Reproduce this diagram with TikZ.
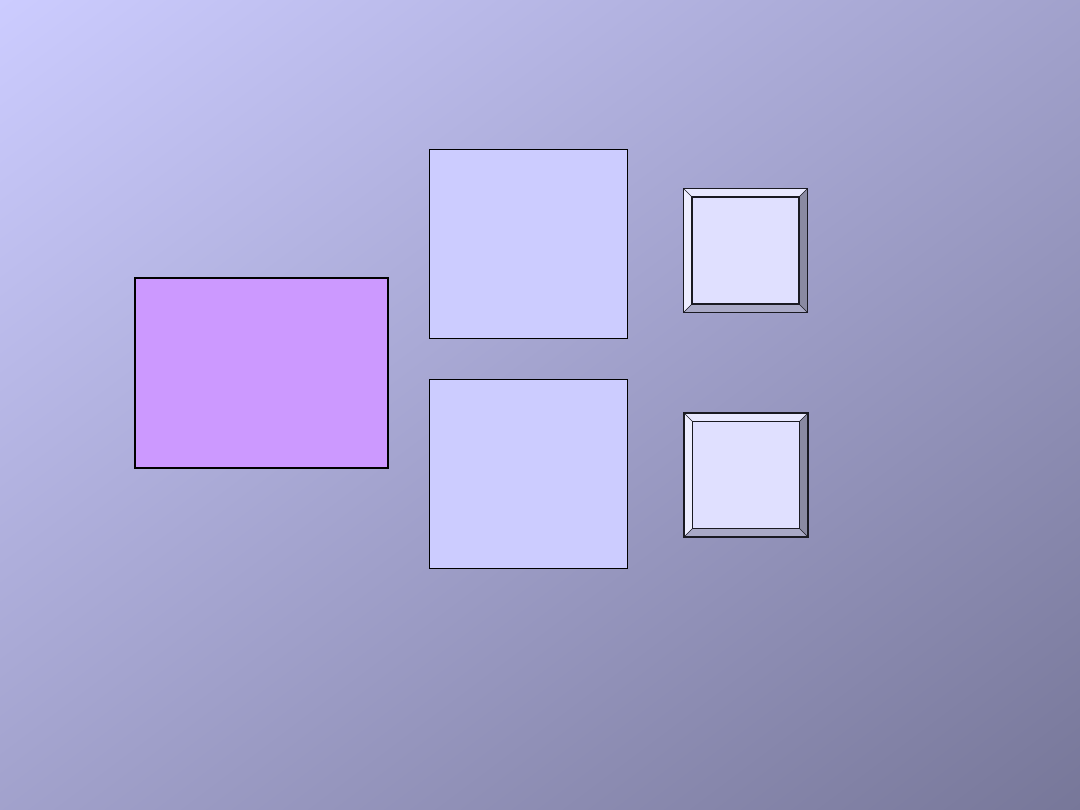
\documentclass[tikz,border=0pt]{standalone}
\usetikzlibrary{calc}
\pgfdeclarefunctionalshading{bggrad}{\pgfpointorigin}{\pgfpoint{100bp}{100bp}}{}{
  sub 50 add 100 div
  dup -0.333 mul 0.8 add exch
  dup -0.333 mul 0.8 add exch
  -0.4 mul 1.0 add
}
\definecolor{boxpurple}{HTML}{CC99FF}
\definecolor{boxlight}{HTML}{CCCCFF}
\definecolor{bevface}{HTML}{E0E0FF}
\definecolor{bevtopc}{HTML}{E9E9FF}
\definecolor{bevleftc}{HTML}{EEEEFF}
\definecolor{bevrightc}{HTML}{8A8AA2}
\definecolor{bevbotc}{HTML}{A9A9C6}
\definecolor{bevline}{HTML}{1A1A22}
\tikzset{
  purplebox/.style={draw=black, line width=2pt, fill=boxpurple, inner sep=0pt, outer sep=0pt,
    minimum width=253pt, minimum height=189.5pt},
  lightbox/.style={draw=black, line width=0.8pt, fill=boxlight, inner sep=0pt, outer sep=0pt,
    minimum width=198pt, minimum height=189pt},
  bevelouter/.style={fill=bevface, inner sep=0pt, outer sep=0pt, minimum width=124pt, minimum height=124pt},
  bevedge/.style={draw=bevline, line width=0.6pt},
  bevborder/.style={draw=bevline, line width=1.1pt},
}
\newcommand\bevelbox[3]{%
  \node[bevelouter] (#1) at (#2,#3) {};
  \coordinate (#1-inw) at ($(#1.north west)+(8.5,-8.5)$);
  \coordinate (#1-ine) at ($(#1.north east)+(-8.5,-8.5)$);
  \coordinate (#1-ise) at ($(#1.south east)+(-8.5,8.5)$);
  \coordinate (#1-isw) at ($(#1.south west)+(8.5,8.5)$);
  \fill[bevtopc] (#1.north west) -- (#1.north east) -- (#1-ine) -- (#1-inw) -- cycle;
  \fill[bevleftc] (#1.north west) -- (#1-inw) -- (#1-isw) -- (#1.south west) -- cycle;
  \fill[bevrightc] (#1.north east) -- (#1.south east) -- (#1-ise) -- (#1-ine) -- cycle;
  \fill[bevbotc] (#1.south west) -- (#1-isw) -- (#1-ise) -- (#1.south east) -- cycle;
  \draw[bevedge] (#1.north west) -- (#1-inw) (#1.north east) -- (#1-ine)
    (#1.south east) -- (#1-ise) (#1.south west) -- (#1-isw);
  \draw[bevborder] (#1-inw) rectangle (#1-ise);
  \draw[bevborder] (#1.north west) rectangle (#1.south east);
}
\begin{document}
\begin{tikzpicture}[x=1pt,y=1pt]
  \useasboundingbox (0,0) rectangle (1080,810);
  \shade[shading=bggrad] (0,0) rectangle (1080,810);
  \node[purplebox] (main) at (261,436.75) {};
  \node[lightbox] (upper) at (528.5,566) {};
  \node[lightbox] (lower) at (528.5,336) {};
  \bevelbox{btnA}{745.5}{559.5}
  \bevelbox{btnB}{746}{335}
\end{tikzpicture}
\end{document}
